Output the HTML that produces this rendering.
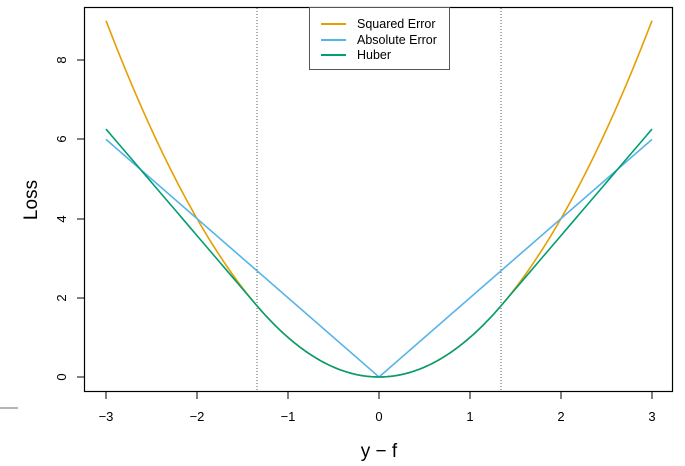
<!DOCTYPE html>
<html><head><style>body{margin:0;background:#fff}svg{display:block}</style></head><body>
<svg width="685" height="466" xmlns="http://www.w3.org/2000/svg" font-family="Liberation Sans, sans-serif">
<rect x="0" y="0" width="685" height="466" fill="#fff"/>
<line x1="0" y1="408" x2="18" y2="408" stroke="#888" stroke-width="1.2"/>
<rect x="84.5" y="7.5" width="588" height="384" fill="none" stroke="#000" stroke-width="1.2"/>
<g stroke="#000" stroke-width="1">
<line x1="106" y1="391" x2="106" y2="399"/><line x1="197" y1="391" x2="197" y2="399"/><line x1="288" y1="391" x2="288" y2="399"/><line x1="379" y1="391" x2="379" y2="399"/><line x1="470" y1="391" x2="470" y2="399"/><line x1="561" y1="391" x2="561" y2="399"/><line x1="652" y1="391" x2="652" y2="399"/>
<line x1="77" y1="377" x2="84" y2="377"/><line x1="77" y1="298" x2="84" y2="298"/><line x1="77" y1="219" x2="84" y2="219"/><line x1="77" y1="139" x2="84" y2="139"/><line x1="77" y1="60" x2="84" y2="60"/>
</g>
<g font-size="13" text-anchor="middle" fill="#000">
<text x="106" y="421">−3</text><text x="197" y="421">−2</text><text x="288" y="421">−1</text><text x="379" y="421">0</text><text x="470" y="421">1</text><text x="561" y="421">2</text><text x="652" y="421">3</text>
<text transform="translate(66,377) rotate(-90)">0</text><text transform="translate(66,298) rotate(-90)">2</text><text transform="translate(66,219) rotate(-90)">4</text><text transform="translate(66,139) rotate(-90)">6</text><text transform="translate(66,60) rotate(-90)">8</text>
</g>
<text x="379" y="457" font-size="19" text-anchor="middle">y − f</text>
<text transform="translate(37,200) rotate(-90)" font-size="19" text-anchor="middle">Loss</text>
<line x1="257" y1="8" x2="257" y2="391" stroke="#333" stroke-width="0.8" stroke-dasharray="1,2"/>
<line x1="501" y1="8" x2="501" y2="391" stroke="#333" stroke-width="0.8" stroke-dasharray="1,2"/>
<g fill="none" stroke-width="1.6">
<path id="sq" stroke="#E69F00" d=""/>
<path stroke="#56B4E9" d="M106,139.4 L379,377 L652,139.4"/>
<path id="hu" stroke="#009E73" d=""/>
</g>
<rect x="309.5" y="7.5" width="140" height="62" fill="#fff" stroke="#555" stroke-width="1"/>
<g stroke-width="2"><line x1="321" y1="24" x2="346" y2="24" stroke="#E69F00"/><line x1="321" y1="40" x2="346" y2="40" stroke="#56B4E9"/><line x1="321" y1="55" x2="346" y2="55" stroke="#009E73"/></g>
<g font-size="12.5"><text x="357" y="28">Squared Error</text><text x="357" y="44">Absolute Error</text><text x="357" y="59">Huber</text></g>
<script>
function X(r){return 379+91*r}function Y(v){return 377-39.6*v}
var d=1.345,s="",h="";
for(var i=0;i<=300;i++){var r=-3+6*i/300;var a=Math.abs(r);
s+=(i?"L":"M")+X(r).toFixed(2)+","+Y(r*r).toFixed(2);
var hv=a<=d?r*r:2*d*a-d*d;h+=(i?"L":"M")+X(r).toFixed(2)+","+Y(hv).toFixed(2);}
document.getElementById("sq").setAttribute("d",s);document.getElementById("hu").setAttribute("d",h);
</script>
</svg>
</body></html>
